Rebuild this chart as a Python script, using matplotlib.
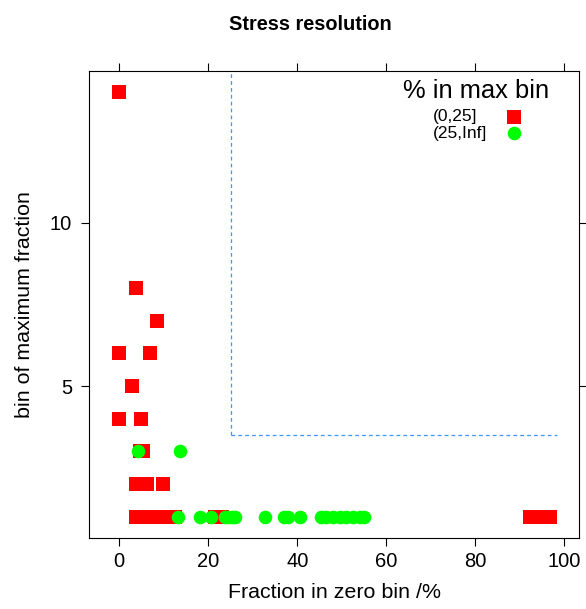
import matplotlib.pyplot as plt
from matplotlib.lines import Line2D

plt.rcParams['font.family'] = ['Liberation Sans', 'DejaVu Sans']

# Points where the max bin holds up to 25%
low_x = [0.0, 3.7, 8.4, 0.0, 6.9, 2.8, 0.0, 4.8, 4.6, 5.3,
         3.7, 5.0, 6.2, 9.8,
         3.7, 5.0, 6.5, 8.0, 9.5, 11.0, 12.5, 21.5, 23.0,
         92.2, 93.7, 95.2, 96.7]
low_y = [14, 8, 7, 6, 6, 5, 4, 4, 3, 3,
         2, 2, 2, 2,
         1, 1, 1, 1, 1, 1, 1, 1, 1,
         1, 1, 1, 1]

# Points where the max bin holds more than 25%
high_x = [4.3, 13.6,
          13.2, 18.2, 20.5, 23.7, 24.5, 25.3, 26.0, 32.7, 37.0, 37.8, 40.6,
          45.3, 46.5, 48.0, 49.5, 51.0, 52.5, 54.0, 55.0]
high_y = [3, 3,
          1, 1, 1, 1, 1, 1, 1, 1, 1, 1, 1,
          1, 1, 1, 1, 1, 1, 1, 1]

legend_labels = ['(0,25]', '(25,Inf]']

# Threshold guide lines
zero_cut = 25
bin_cut = 3.5
guide_end = 98.4

x_ticks = [0, 20, 40, 60, 80, 100]
y_ticks = [5, 10]

fig = plt.figure(figsize=(5.86, 6.09), dpi=100)
ax = fig.add_axes([89.3 / 586, 71.3 / 609, (579 - 89.3) / 586, (537.7 - 71) / 609])

ax.plot(low_x, low_y, 's', color='#ff0000', ms=9.4, mew=0, zorder=3)
ax.plot(high_x, high_y, 'o', color='#00ff00', ms=9.8, mew=0, zorder=4)

ax.set_xlim(-6.74, 103.3)
ax.set_ylim(0.36, 14.64)

ax.plot([zero_cut, zero_cut], [bin_cut, 14.64], color='#3d95ff',
        lw=0.9, ls=(0, (3, 2.5)), zorder=2)
ax.plot([zero_cut, guide_end], [bin_cut, bin_cut], color='#3d95ff',
        lw=0.9, ls=(0, (3, 2.5)), zorder=2)

ax.set_xticks(x_ticks)
ax.set_yticks(y_ticks)
ax.tick_params(direction='out', length=6, width=0.8, labelsize=14.5,
               top=True, right=True, color='black')
ax.tick_params(axis='x', pad=4)
ax.tick_params(axis='y', pad=6.5)
for s in ax.spines.values():
    s.set_linewidth(0.8)
    s.set_color('black')

ax.set_xlabel('Fraction in zero bin /%', fontsize=15.4, va='center')
ax.xaxis.set_label_coords(0.5, -(593 - 537.7) / 466.7)
ax.set_ylabel('bin of maximum fraction', fontsize=15.4, va='center')
ax.yaxis.set_label_coords((25 - 89.3) / 489.7, 0.5)

fig.text(310 / 586, 1 - 30 / 609, 'Stress resolution', fontsize=14.4,
         fontweight='bold', ha='center', va='baseline')

# Key in the top right corner
fig.text(476 / 586, 1 - 98 / 609, '% in max bin', fontsize=18.4,
         ha='center', va='baseline')
fig.text(433.3 / 586, 1 - 116.7 / 609, legend_labels[0], fontsize=12.5,
         ha='left', va='center')
fig.text(433.3 / 586, 1 - 133.3 / 609, legend_labels[1], fontsize=12.5,
         ha='left', va='center')
fig.add_artist(Line2D([513.5 / 586], [1 - 116.7 / 609], marker='s', ls='none',
                      color='#ff0000', ms=9.4, mew=0))
fig.add_artist(Line2D([513.5 / 586], [1 - 133.3 / 609], marker='o', ls='none',
                      color='#00ff00', ms=9.8, mew=0))

fig.savefig('out.png', dpi=100)
